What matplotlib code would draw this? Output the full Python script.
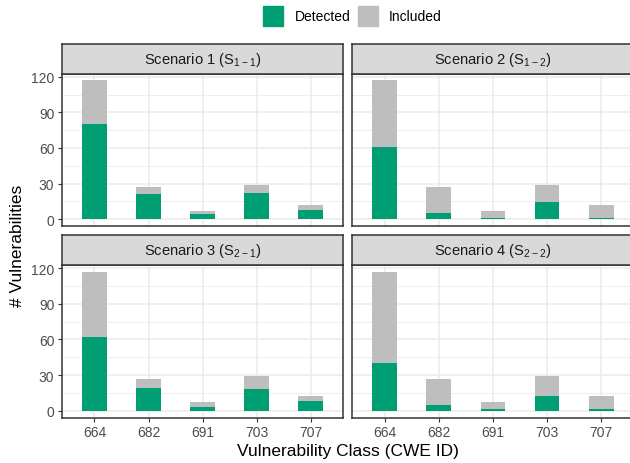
import matplotlib
matplotlib.use("Agg")
import matplotlib.pyplot as plt
from matplotlib.patches import Rectangle

plt.rcParams['font.family'] = ['Liberation Sans', 'DejaVu Sans']
plt.rcParams['mathtext.fontset'] = 'custom'
plt.rcParams['mathtext.rm'] = 'Liberation Sans'

categories = ["664", "682", "691", "703", "707"]
scenario_titles = [r"Scenario 1 ($\mathregular{S_{1-1}}$)",
                   r"Scenario 2 ($\mathregular{S_{1-2}}$)",
                   r"Scenario 3 ($\mathregular{S_{2-1}}$)",
                   r"Scenario 4 ($\mathregular{S_{2-2}}$)"]
included = [117, 27, 7, 29, 12]
detected_s1 = [80, 21, 4, 22, 8]
detected_s2 = [61, 5, 1, 14, 1]
detected_s3 = [62, 19, 3, 18, 8]
detected_s4 = [40, 5, 1, 12, 1]
detected = [detected_s1, detected_s2, detected_s3, detected_s4]
yticks = [0, 30, 60, 90, 120]

GREEN = "#009E73"
GREY = "#BEBEBE"
W, H = 630, 464
fig = plt.figure(figsize=(W / 100, H / 100), dpi=100)

def box(x0, y0, x1, y1):
    return [x0 / W, 1 - y1 / H, (x1 - x0) / W, (y1 - y0) / H]

cols = [(62, 343.3), (352.3, 633.6)]
rows = [((45, 74.5), (74.5, 227)), ((236, 266), (266, 418.5))]

ymax = max(included)
pad = 0.05 * ymax
x = list(range(1, len(categories) + 1))

for k in range(4):
    r, c = divmod(k, 2)
    (sy0, sy1), (py0, py1) = rows[r]
    x0, x1 = cols[c]
    ax = fig.add_axes(box(x0, py0, x1, py1))
    ax.set_xlim(0.4, 5.6)
    ax.set_ylim(-pad, ymax + pad)
    ax.set_yticks(yticks)
    ax.set_yticks([15, 45, 75, 105], minor=True)
    ax.set_xticks(x)
    ax.grid(True, which='major', color='#EBEBEB', lw=1.1)
    ax.grid(True, which='minor', axis='y', color='#EBEBEB', lw=0.6)
    ax.set_axisbelow(True)
    ax.bar(x, included, width=0.46, color=GREY, zorder=2)
    ax.bar(x, detected[k], width=0.46, color=GREEN, zorder=3)
    for s in ax.spines.values():
        s.set_color('#333333')
        s.set_linewidth(1.1)
    ax.tick_params(which='major', length=3, color='#333333', width=0.8,
                   labelsize=10, labelcolor='#4D4D4D', pad=2.5)
    ax.tick_params(which='minor', length=0)
    if c == 0:
        ax.set_yticklabels([str(v) for v in yticks])
    else:
        ax.set_yticklabels([])
        ax.tick_params(axis='y', length=0)
    if r == 1:
        ax.set_xticklabels(categories)
    else:
        ax.set_xticklabels([])
        ax.tick_params(axis='x', length=0)
    sax = fig.add_axes(box(x0, sy0, x1, sy1))
    sax.set_facecolor('#D9D9D9')
    sax.set_xticks([]); sax.set_yticks([])
    for s in sax.spines.values():
        s.set_color('#333333')
        s.set_linewidth(1.1)
    sax.text(0.5, 0.5, scenario_titles[k], ha='center', va='center',
             fontsize=10.6, color='#1A1A1A', transform=sax.transAxes)

fig.text(348 / W, 1 - 452 / H, "Vulnerability Class (CWE ID)", ha='center',
         va='center', fontsize=12.5)
fig.text(18 / W, 1 - 246 / H, "# Vulnerabilities", ha='center', va='center',
         rotation=90, fontsize=12.5)

# legend
fig.patches.append(Rectangle((263 / W, 1 - 27 / H), 20 / W, 20 / H,
                             transform=fig.transFigure, color=GREEN))
fig.text(295 / W, 1 - 17 / H, "Detected", va='center', fontsize=10)
fig.patches.append(Rectangle((358 / W, 1 - 27 / H), 20 / W, 20 / H,
                             transform=fig.transFigure, color=GREY))
fig.text(389 / W, 1 - 17 / H, "Included", va='center', fontsize=10)

fig.savefig("out.png", dpi=100)
